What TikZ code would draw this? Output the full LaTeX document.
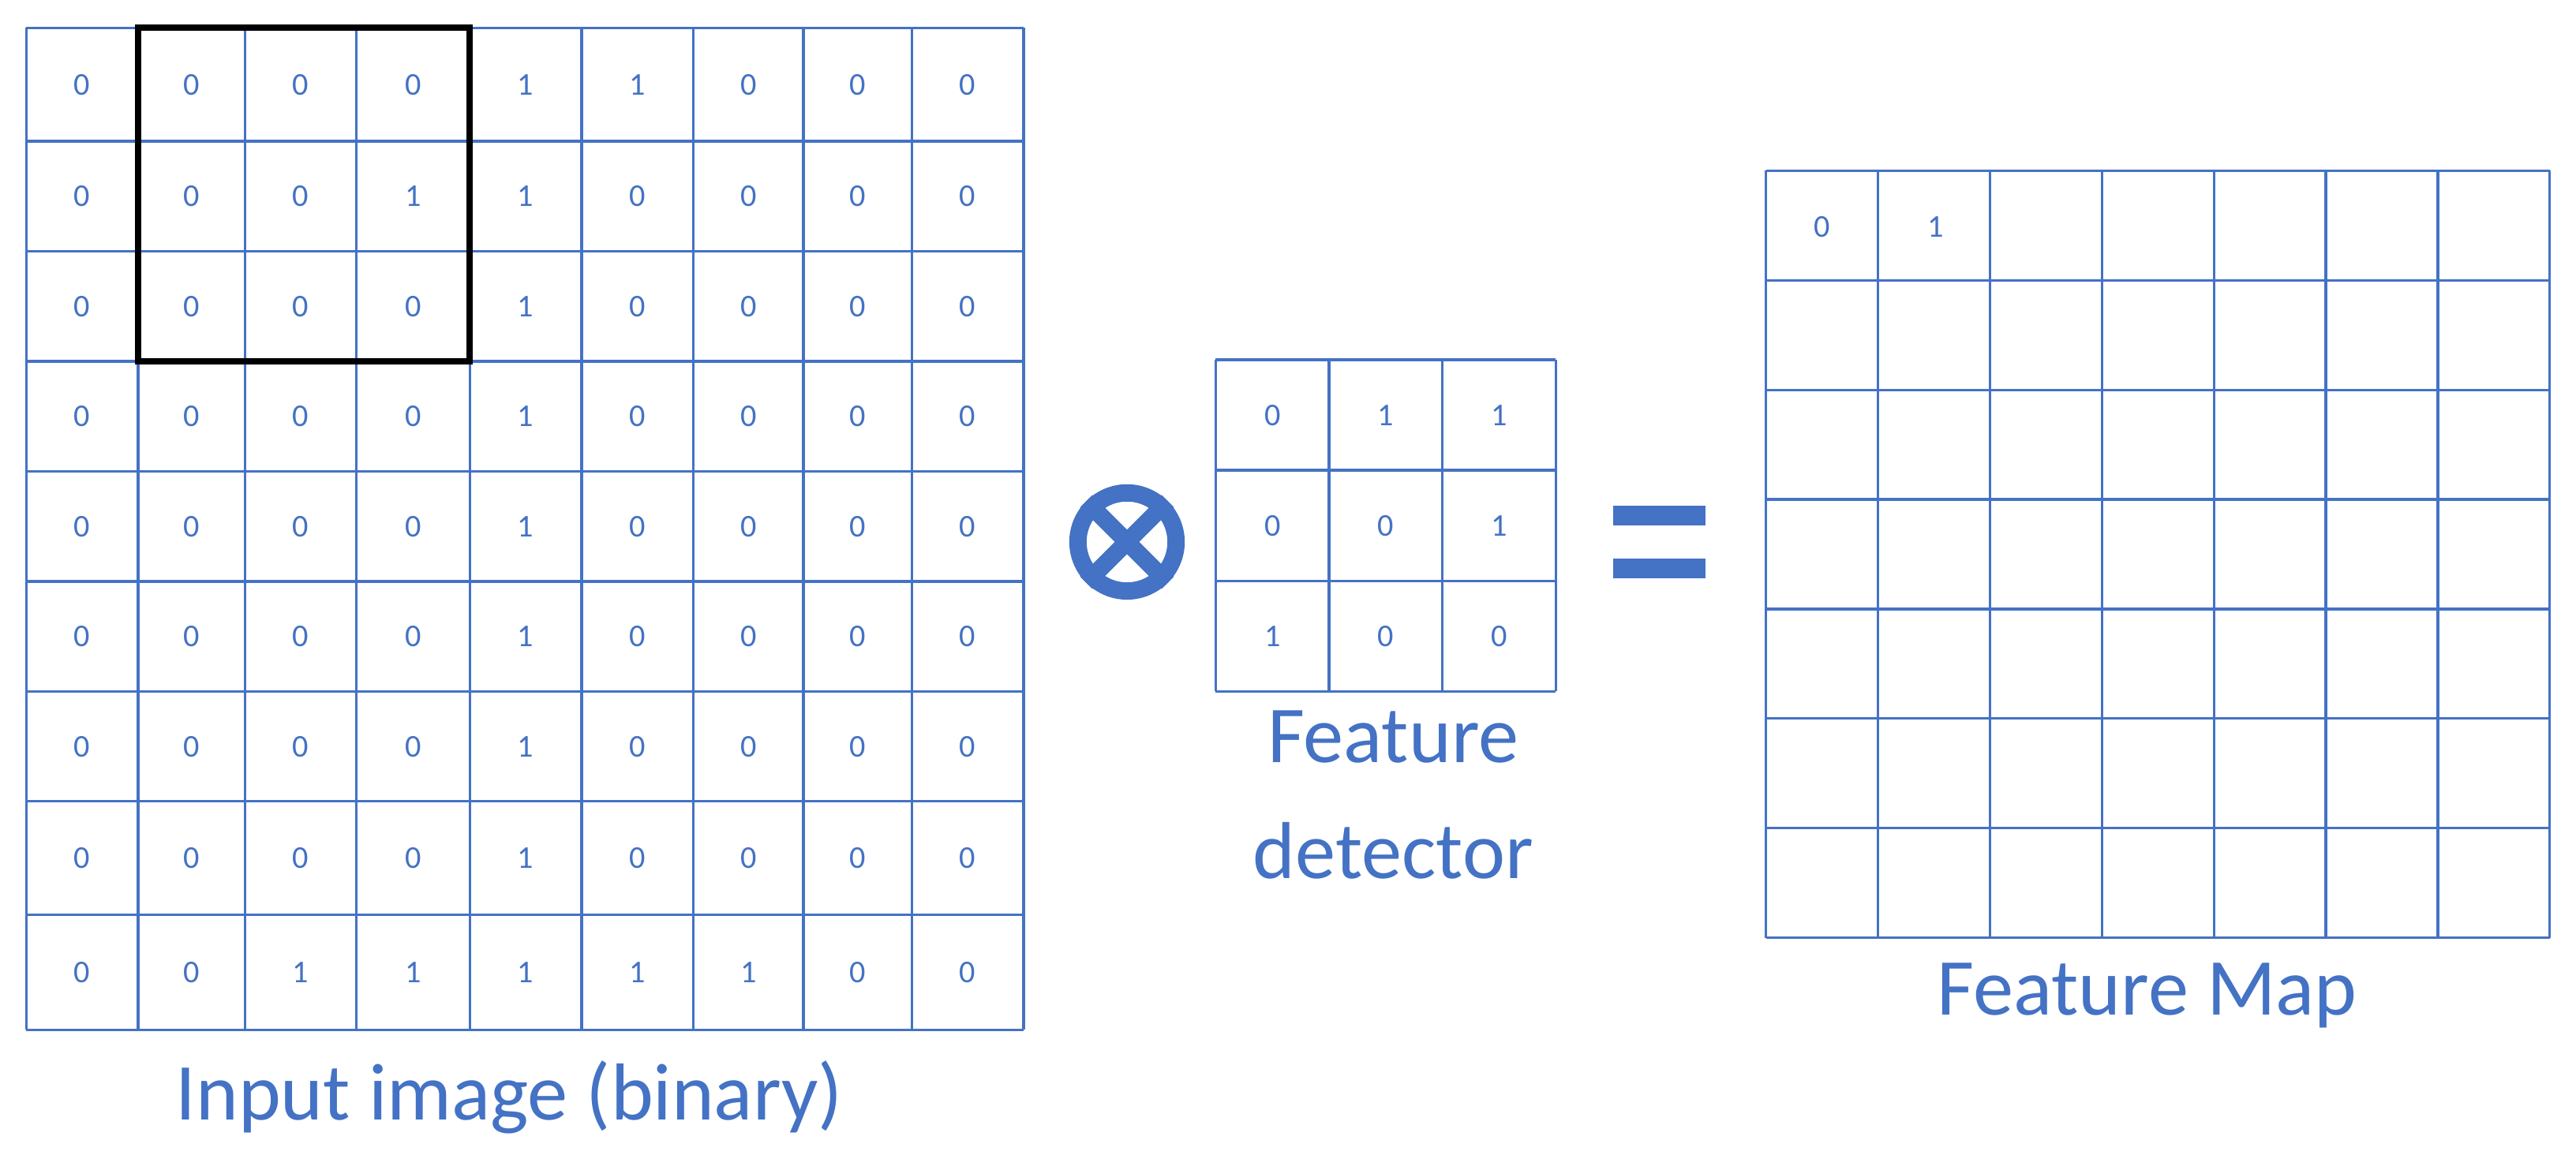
\documentclass[tikz,border=0pt]{standalone}
\usepackage{fontspec}
\setmainfont{Carlito}
\definecolor{bl}{HTML}{4472C4}
\begin{document}
\begin{tikzpicture}[x=0.02cm,y=-0.02cm,
  grid/.style={draw=bl,line width=0.9pt},
  num/.style={text=bl,font=\fontsize{11}{13}\selectfont},
  lab/.style={text=bl,font=\fontsize{28}{34}\selectfont,align=center}]
\useasboundingbox (0,0) rectangle (1568,703);
% input grid
\def\xs{{16,84,149,217,286,354,422,489,555,623}}
\def\ys{{17,86,153,220,287,354,421,488,557,627}}
\foreach \i in {0,...,9}{
  \pgfmathsetmacro\xx{\xs[\i]}\pgfmathsetmacro\yy{\ys[\i]}
  \draw[grid] (\xx,17) -- (\xx,627);
  \draw[grid] (16,\yy) -- (623,\yy);}
\foreach \row [count=\r from 0] in {{0,0,0,0,1,1,0,0,0},{0,0,0,1,1,0,0,0,0},{0,0,0,0,1,0,0,0,0},{0,0,0,0,1,0,0,0,0},{0,0,0,0,1,0,0,0,0},{0,0,0,0,1,0,0,0,0},{0,0,0,0,1,0,0,0,0},{0,0,0,0,1,0,0,0,0},{0,0,1,1,1,1,1,0,0}}{
 \foreach \v [count=\c from 0] in \row{
  \pgfmathtruncatemacro\cn{\c+1}\pgfmathtruncatemacro\rn{\r+1}
  \pgfmathsetmacro\xa{\xs[\c]}\pgfmathsetmacro\xb{\xs[\cn]}
  \pgfmathsetmacro\ya{\ys[\r]}\pgfmathsetmacro\yb{\ys[\rn]}
  \node[num] (in-\r-\c) at ({(\xa+\xb)/2},{(\ya+\yb)/2}) {\v};}}
\draw[line width=2.2pt] (84,17) rectangle (286,220);
\node[lab] (inlab) at (310,668) {Input image (binary)};
% otimes
\node[draw=bl,line width=6pt,circle,minimum size=34pt,inner sep=0] (ot) at (686,330) {};
\draw[bl,line width=6pt] (ot.north west) -- (ot.south east) (ot.north east) -- (ot.south west);
% feature detector
\foreach \i in {0,...,3}{
  \draw[grid] (740+69*\i,219) -- (740+69*\i,421);
  \draw[grid] (740,219+67.33*\i) -- (947,219+67.33*\i);}
\foreach \row [count=\r from 0] in {{0,1,1},{0,0,1},{1,0,0}}{
 \foreach \v [count=\c from 0] in \row{
  \node[num] (fd-\r-\c) at (774.5+69*\c,253+67.33*\r) {\v};}}
\node[lab,font=\fontsize{28}{40}\selectfont] (fdlab) at (848,484) {Feature\\detector};
% equals
\fill[bl] (982,308) rectangle (1038,320);
\fill[bl] (982,340) rectangle (1038,352);
% feature map
\foreach \i in {0,...,7}{
  \draw[grid] (1075+68.14*\i,104) -- (1075+68.14*\i,571);
  \draw[grid] (1075,104+66.7*\i) -- (1552,104+66.7*\i);}
\node[num] (fm-0-0) at (1109,138) {0};
\node[num] (fm-0-1) at (1178,138) {1};
\node[lab] (fmlab) at (1307,606) {Feature Map};
\end{tikzpicture}
\end{document}
